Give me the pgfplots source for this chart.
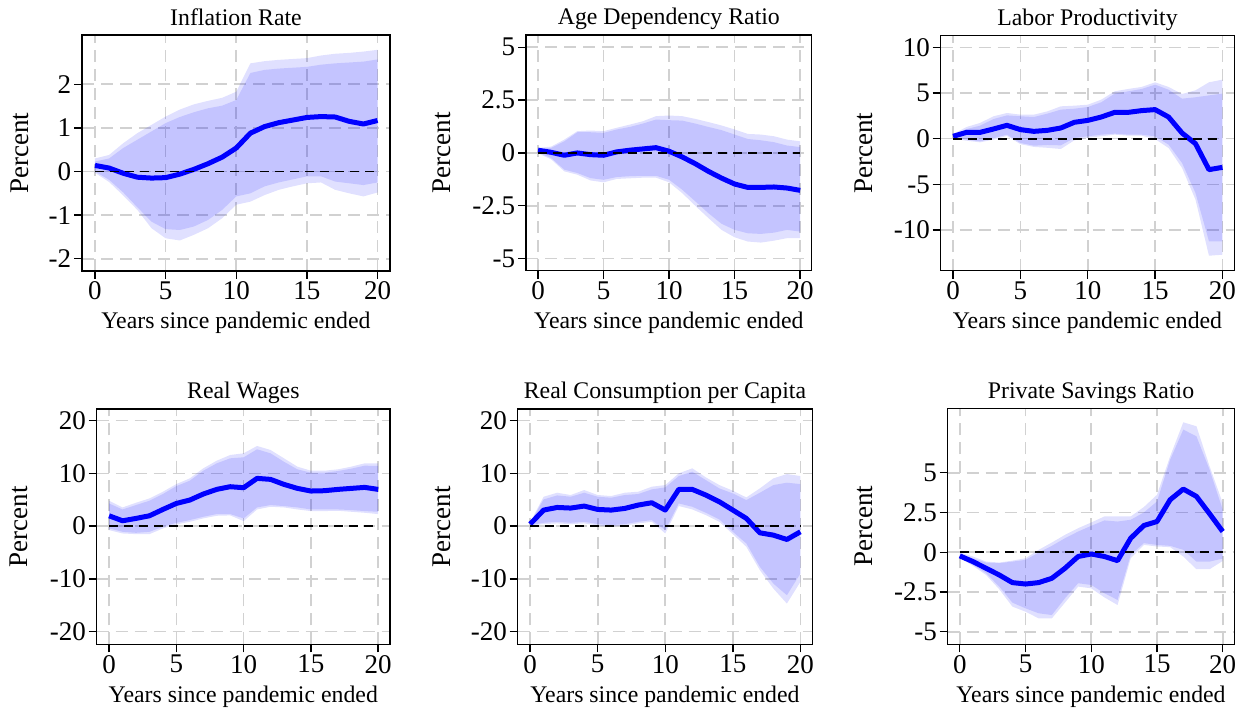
\documentclass[border=0pt]{standalone}
\usepackage{pgfplots}
\pgfplotsset{compat=1.18}
\usepackage{pgfplotstable}
\usepgfplotslibrary{fillbetween}
\usepackage{fontspec}
\setmainfont{Liberation Serif}

\pgfplotstableread{
t lo90 lo68 m hi68 hi90
0 -0.03 0.00 0.14 0.23 0.30
1 -0.24 -0.19 0.08 0.30 0.38
2 -0.55 -0.48 -0.04 0.54 0.65
3 -0.88 -0.82 -0.13 0.73 0.88
4 -1.30 -1.15 -0.15 0.92 1.07
5 -1.53 -1.32 -0.14 1.11 1.26
6 -1.58 -1.34 -0.06 1.25 1.42
7 -1.45 -1.26 0.05 1.36 1.54
8 -1.30 -1.11 0.18 1.45 1.62
9 -1.07 -0.88 0.33 1.51 1.69
10 -0.76 -0.57 0.54 1.64 1.83
11 -0.69 -0.50 0.88 2.26 2.48
12 -0.54 -0.34 1.03 2.33 2.53
13 -0.42 -0.25 1.12 2.36 2.56
14 -0.34 -0.18 1.18 2.38 2.58
15 -0.27 -0.11 1.24 2.40 2.60
16 -0.25 -0.11 1.26 2.45 2.66
17 -0.42 -0.23 1.25 2.48 2.70
18 -0.50 -0.27 1.15 2.50 2.72
19 -0.57 -0.31 1.09 2.52 2.75
20 -0.48 -0.25 1.17 2.57 2.79
}\tabInfl

\pgfplotstableread{
t lo90 lo68 m hi68 hi90
0 -0.02 0.02 0.13 0.20 0.24
1 -0.30 -0.24 0.03 0.24 0.30
2 -0.87 -0.79 -0.11 0.55 0.63
3 -1.03 -0.95 0.00 0.98 1.03
4 -1.30 -1.19 -0.08 0.98 1.06
5 -1.39 -1.27 -0.11 0.95 1.03
6 -1.23 -1.14 0.05 1.11 1.19
7 -1.20 -1.10 0.13 1.23 1.34
8 -1.17 -1.08 0.19 1.39 1.50
9 -1.17 -1.08 0.25 1.58 1.74
10 -1.39 -1.27 0.08 1.55 1.77
11 -1.90 -1.74 -0.19 1.53 1.74
12 -2.50 -2.29 -0.51 1.39 1.61
13 -3.08 -2.85 -0.87 1.23 1.46
14 -3.64 -3.35 -1.19 1.08 1.30
15 -3.99 -3.64 -1.47 0.87 1.11
16 -4.19 -3.80 -1.63 0.66 0.90
17 -4.24 -3.83 -1.63 0.60 0.87
18 -4.15 -3.77 -1.61 0.51 0.79
19 -4.03 -3.64 -1.66 0.35 0.63
20 -4.03 -3.72 -1.77 0.28 0.55
}\tabAge

\pgfplotstableread{
t lo90 lo68 m hi68 hi90
0 0.00 0.10 0.26 0.40 0.50
1 -0.22 -0.10 0.69 1.06 1.28
2 -0.40 -0.29 0.69 1.42 1.72
3 -0.10 0.05 1.06 2.15 2.45
4 0.30 0.44 1.46 2.55 2.81
5 -0.60 -0.47 0.99 2.45 2.63
6 -0.90 -0.77 0.80 2.37 2.63
7 -1.00 -0.69 0.91 2.74 2.99
8 -1.13 -0.73 1.17 3.18 3.54
9 -0.18 0.07 1.79 3.28 3.61
10 0.10 0.26 2.00 3.47 3.72
11 0.26 0.44 2.37 3.98 4.27
12 0.44 0.55 2.88 4.93 5.18
13 0.33 0.44 2.88 5.18 5.44
14 0.33 0.44 3.07 5.44 5.66
15 -0.04 0.26 3.18 5.91 6.17
16 -1.02 -0.66 2.37 5.36 5.66
17 -3.20 -2.66 0.62 4.38 4.89
18 -6.68 -5.95 -0.55 4.53 5.29
19 -12.81 -11.24 -3.39 4.74 6.17
20 -12.70 -11.24 -3.14 4.93 6.46
}\tabLab

\pgfplotstableread{
t lo90 lo68 m hi68 hi90
0 -0.76 -0.44 1.96 4.30 4.80
1 -1.39 -1.08 1.01 3.16 3.54
2 -1.52 -1.27 1.46 3.99 4.43
3 -1.52 -1.08 1.96 4.81 5.25
4 -0.44 -0.13 3.16 6.08 6.52
5 0.32 0.63 4.30 7.59 7.97
6 0.82 1.14 4.94 8.61 9.05
7 1.46 1.77 6.08 10.50 10.95
8 1.96 2.28 6.96 11.90 12.40
9 2.03 2.28 7.47 12.85 13.48
10 0.95 1.46 7.28 13.04 13.80
11 3.16 3.54 9.05 14.56 15.19
12 3.67 3.99 8.86 13.80 14.43
13 3.54 3.80 7.91 12.20 12.85
14 3.16 3.54 7.15 10.76 11.27
15 2.85 3.16 6.65 10.13 10.50
16 2.85 3.16 6.71 10.13 10.50
17 2.91 3.16 6.96 10.44 10.76
18 2.72 3.04 7.15 10.89 11.27
19 2.53 2.85 7.34 11.46 11.90
20 2.28 2.72 6.96 11.39 11.90
}\tabWage

\pgfplotstableread{
t lo90 lo68 m hi68 hi90
0 0.10 0.20 0.38 0.60 0.70
1 0.38 0.63 3.04 5.06 5.57
2 0.51 0.82 3.54 5.82 6.33
3 0.38 0.63 3.42 5.57 5.89
4 0.51 0.82 3.80 6.33 6.84
5 0.13 0.38 3.16 5.57 5.89
6 -0.13 0.19 3.04 5.38 5.70
7 0.13 0.38 3.35 5.89 6.33
8 0.51 0.82 3.99 6.08 6.52
9 0.82 1.14 4.43 6.96 7.47
10 -1.39 -0.76 3.04 7.34 7.78
11 3.80 4.30 6.96 9.49 10.00
12 3.16 3.67 6.96 10.32 10.95
13 2.09 2.53 5.89 8.73 9.24
14 0.82 1.27 4.62 7.15 7.78
15 -1.52 -1.08 3.04 6.20 6.71
16 -3.92 -3.29 1.46 4.94 5.44
17 -8.35 -7.72 -1.27 6.33 7.15
18 -11.84 -10.89 -1.71 7.78 9.05
19 -14.68 -13.10 -2.53 8.23 9.87
20 -10.57 -8.99 -1.08 7.97 9.49
}\tabCons

\pgfplotstableread{
t lo90 lo68 m hi68 hi90
0 -0.35 -0.30 -0.23 -0.10 -0.02
1 -0.86 -0.80 -0.59 -0.38 -0.27
2 -1.43 -1.32 -1.01 -0.65 -0.59
3 -2.33 -2.16 -1.43 -0.69 -0.65
4 -3.42 -3.17 -1.91 -0.59 -0.53
5 -3.74 -3.53 -2.00 -0.48 -0.38
6 -4.16 -3.84 -1.91 -0.02 0.15
7 -4.16 -3.95 -1.64 0.40 0.61
8 -3.17 -2.90 -1.01 0.88 1.09
9 -2.16 -1.95 -0.27 1.30 1.51
10 -2.27 -2.06 -0.11 1.66 1.87
11 -2.84 -2.58 -0.27 2.00 2.25
12 -3.32 -3.00 -0.53 1.93 2.25
13 -0.38 -0.17 0.88 2.04 2.25
14 0.46 0.57 1.68 2.50 2.84
15 0.36 0.46 1.93 3.19 3.61
16 0.32 0.40 3.30 5.82 6.03
17 -0.27 0.15 3.97 7.71 8.17
18 -1.07 -0.59 3.51 7.29 7.92
19 -1.07 -0.59 2.42 5.19 5.40
20 -0.55 -0.40 1.30 2.67 3.09
}\tabSav

\pgfplotsset{
  panel/.style={
    scale only axis,
    xmin=-0.92, xmax=20.88,
    xtick={0,5,10,15,20},
    tick pos=left, tick align=outside,
    major tick length=4pt,
    grid=major,
    major grid style={black!18, line width=0.8pt, dash pattern=on 6pt off 3.5pt},
    axis line style={line width=0.7pt},
    every tick/.style={black, line width=0.7pt},
    no marks,
    /pgf/number format/assume math mode=true,
    tick label style={font=\fontsize{13.5}{16}\selectfont, inner sep=1.2pt},
    title style={font=\fontsize{11.9}{14}\selectfont, at={(axis description cs:0.5,1)}, anchor=base, yshift=-1pt},
    xlabel={Years since pandemic ended},
    xlabel style={font=\fontsize{11.9}{14}\selectfont, at={(axis description cs:0.5,0)}, anchor=base, yshift=-29pt},
    ylabel={Percent},
    ylabel style={font=\fontsize{13.5}{16}\selectfont, anchor=center},
  }
}

\newcommand{\panelplots}[2]{%
  \addplot[name path=h9#2, draw=none, forget plot] table[x=t,y=hi90]{#1};
  \addplot[name path=l9#2, draw=none, forget plot] table[x=t,y=lo90]{#1};
  \addplot[name path=h6#2, draw=none, forget plot] table[x=t,y=hi68]{#1};
  \addplot[name path=l6#2, draw=none, forget plot] table[x=t,y=lo68]{#1};
  \addplot[fill=blue, fill opacity=0.122, draw=none] fill between[of=h9#2 and l9#2];
  \addplot[fill=blue, fill opacity=0.125, draw=none] fill between[of=h6#2 and l6#2];
  \addplot[blue, line width=2.5pt, line join=round] table[x=t,y=m]{#1};
  \addplot[black, line width=0.85pt, dash pattern=on 4.5pt off 3pt] coordinates {(0,0) (20,0)};
}

\begin{document}
\begin{tikzpicture}

\begin{axis}[panel, at={(41pt,221pt)}, anchor=south west, width=154pt, height=118pt,
  ymin=-2.28, ymax=3.13, ytick={-2,-1,0,1,2}, title={Inflation Rate},
  ylabel style={at={(axis description cs:-0.2013,0.5)}}]
\panelplots{\tabInfl}{a}
\end{axis}

\begin{axis}[panel, at={(263pt,221.15pt)}, anchor=south west, width=142.85pt, height=117.85pt,
  ymin=-5.57, ymax=5.58, ytick={-5,-2.5,0,2.5,5}, title={Age Dependency Ratio},
  ylabel style={at={(axis description cs:-0.294,0.5)}}]
\panelplots{\tabAge}{b}
\end{axis}

\begin{axis}[panel, at={(470.35pt,221.15pt)}, anchor=south west, width=146.8pt, height=117.5pt,
  ymin=-14.45, ymax=11.27, ytick={-10,-5,0,5,10}, title={Labor Productivity},
  ylabel style={at={(axis description cs:-0.262,0.5)}}]
\panelplots{\tabLab}{c}
\end{axis}

\begin{axis}[panel, at={(48.35pt,34.35pt)}, anchor=south west, width=146.65pt, height=117.65pt,
  ymin=-22.4, ymax=22.2, ytick={-20,-10,0,10,20}, title={Real Wages},
  ylabel style={at={(axis description cs:-0.265,0.5)}}]
\panelplots{\tabWage}{d}
\end{axis}

\begin{axis}[panel, at={(258.85pt,34.35pt)}, anchor=south west, width=147.3pt, height=117.65pt,
  ymin=-22.4, ymax=22.2, ytick={-20,-10,0,10,20}, title={Real Consumption per Capita},
  ylabel style={at={(axis description cs:-0.257,0.5)}}]
\panelplots{\tabCons}{e}
\end{axis}

\begin{axis}[panel, at={(473.85pt,34.35pt)}, anchor=south west, width=143.3pt, height=118pt,
  ymin=-5.79, ymax=9.05, ytick={-5,-2.5,0,2.5,5}, title={Private Savings Ratio},
  ylabel style={at={(axis description cs:-0.292,0.5)}}]
\panelplots{\tabSav}{f}
\end{axis}

\pgfresetboundingbox
\path[use as bounding box] (0,0) rectangle (625pt,356.5pt);
\end{tikzpicture}
\end{document}
